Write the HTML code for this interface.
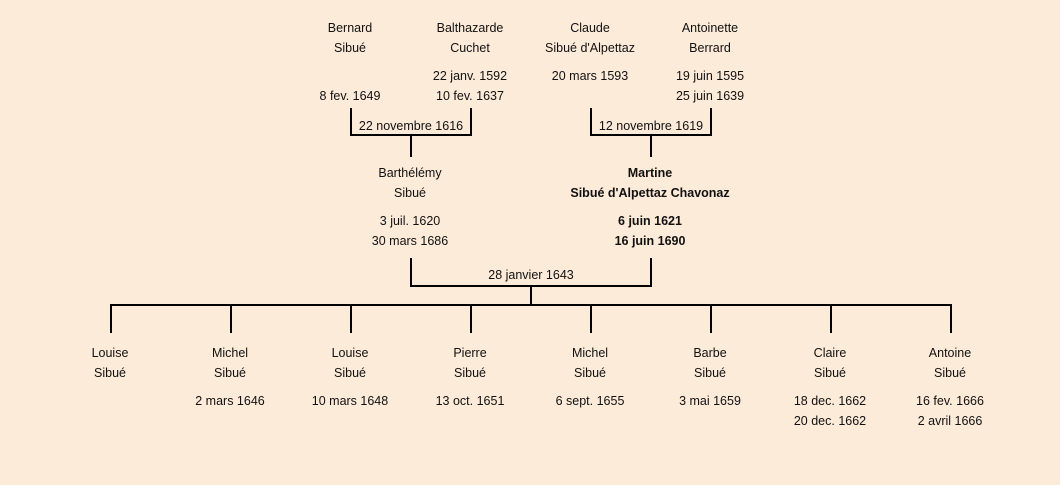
<!DOCTYPE html>
<html><head><meta charset="utf-8"><style>
body{margin:0;width:1060px;height:485px;background:#fdebd9;position:relative;overflow:hidden;font-family:"Liberation Sans",sans-serif;font-size:12.5px;color:#111}
.t{position:absolute;width:240px;margin-left:-120px;text-align:center;line-height:20px;white-space:nowrap;transform:translateY(1px)}
.b{font-weight:bold}
.l{position:absolute;background:#000}
</style></head><body>
<div class="t" style="left:350px;top:17px">Bernard<br>Sibué</div>
<div class="t" style="left:350px;top:85px">8 fev. 1649</div>
<div class="t" style="left:470px;top:17px">Balthazarde<br>Cuchet</div>
<div class="t" style="left:470px;top:65px">22 janv. 1592<br>10 fev. 1637</div>
<div class="t" style="left:590px;top:17px">Claude<br>Sibué d'Alpettaz</div>
<div class="t" style="left:590px;top:65px">20 mars 1593</div>
<div class="t" style="left:710px;top:17px">Antoinette<br>Berrard</div>
<div class="t" style="left:710px;top:65px">19 juin 1595<br>25 juin 1639</div>

<div class="l" style="left:350px;top:108px;width:2px;height:28px"></div>
<div class="l" style="left:470px;top:108px;width:2px;height:28px"></div>
<div class="l" style="left:350px;top:134px;width:122px;height:2px"></div>
<div class="l" style="left:410px;top:136px;width:2px;height:21px"></div>
<div class="t" style="left:411px;top:115px">22 novembre 1616</div>

<div class="l" style="left:590px;top:108px;width:2px;height:28px"></div>
<div class="l" style="left:710px;top:108px;width:2px;height:28px"></div>
<div class="l" style="left:590px;top:134px;width:122px;height:2px"></div>
<div class="l" style="left:650px;top:136px;width:2px;height:21px"></div>
<div class="t" style="left:651px;top:115px">12 novembre 1619</div>

<div class="t" style="left:410px;top:162px">Barthélémy<br>Sibué</div>
<div class="t" style="left:410px;top:210px">3 juil. 1620<br>30 mars 1686</div>
<div class="t b" style="left:650px;top:162px">Martine<br>Sibué d'Alpettaz Chavonaz</div>
<div class="t b" style="left:650px;top:210px">6 juin 1621<br>16 juin 1690</div>

<div class="l" style="left:410px;top:258px;width:2px;height:29px"></div>
<div class="l" style="left:650px;top:258px;width:2px;height:29px"></div>
<div class="l" style="left:410px;top:285px;width:242px;height:2px"></div>
<div class="l" style="left:530px;top:287px;width:2px;height:19px"></div>
<div class="t" style="left:531px;top:264px">28 janvier 1643</div>

<div class="l" style="left:110px;top:304px;width:842px;height:2px"></div>
<div class="l" style="left:110px;top:304px;width:2px;height:29px"></div>
<div class="l" style="left:230px;top:304px;width:2px;height:29px"></div>
<div class="l" style="left:350px;top:304px;width:2px;height:29px"></div>
<div class="l" style="left:470px;top:304px;width:2px;height:29px"></div>
<div class="l" style="left:590px;top:304px;width:2px;height:29px"></div>
<div class="l" style="left:710px;top:304px;width:2px;height:29px"></div>
<div class="l" style="left:830px;top:304px;width:2px;height:29px"></div>
<div class="l" style="left:950px;top:304px;width:2px;height:29px"></div>

<div class="t" style="left:110px;top:342px">Louise<br>Sibué</div>
<div class="t" style="left:230px;top:342px">Michel<br>Sibué</div>
<div class="t" style="left:230px;top:390px">2 mars 1646</div>
<div class="t" style="left:350px;top:342px">Louise<br>Sibué</div>
<div class="t" style="left:350px;top:390px">10 mars 1648</div>
<div class="t" style="left:470px;top:342px">Pierre<br>Sibué</div>
<div class="t" style="left:470px;top:390px">13 oct. 1651</div>
<div class="t" style="left:590px;top:342px">Michel<br>Sibué</div>
<div class="t" style="left:590px;top:390px">6 sept. 1655</div>
<div class="t" style="left:710px;top:342px">Barbe<br>Sibué</div>
<div class="t" style="left:710px;top:390px">3 mai 1659</div>
<div class="t" style="left:830px;top:342px">Claire<br>Sibué</div>
<div class="t" style="left:830px;top:390px">18 dec. 1662<br>20 dec. 1662</div>
<div class="t" style="left:950px;top:342px">Antoine<br>Sibué</div>
<div class="t" style="left:950px;top:390px">16 fev. 1666<br>2 avril 1666</div>
</body></html>
